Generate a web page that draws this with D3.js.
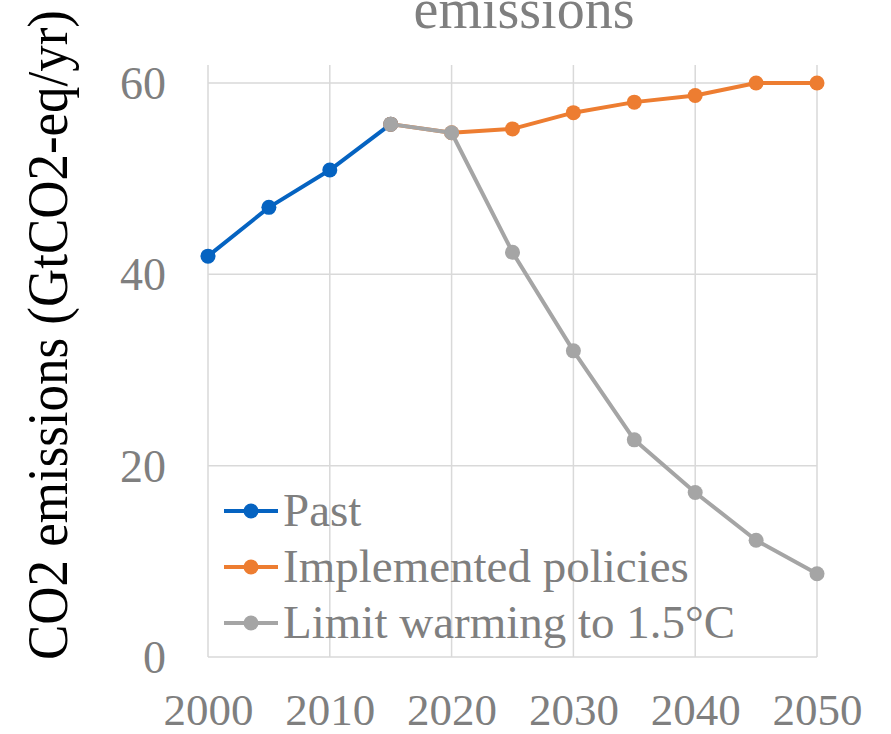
<!DOCTYPE html>
<html>
<head>
<meta charset="utf-8">
<script src="https://cdn.jsdelivr.net/npm/d3@7"></script>
<style>
  html, body { margin: 0; padding: 0; background: #ffffff; }
  svg { display: block; }
  text { font-family: "Liberation Serif", "Times New Roman", serif; }
</style>
</head>
<body>
<svg id="chart" width="891" height="734"></svg>
<script>
// Emission pathways, GtCO2-eq per year
const pastYears = [2000, 2005, 2010, 2015];
const pastValues = [41.9, 47.0, 50.9, 55.7];

const policyYears = [2015, 2020, 2025, 2030, 2035, 2040, 2045, 2050];
const policyValues = [55.7, 54.8, 55.2, 56.9, 58.0, 58.7, 60.0, 60.0];

const limitYears = [2015, 2020, 2025, 2030, 2035, 2040, 2045, 2050];
const limitValues = [55.7, 54.8, 42.3, 32.0, 22.7, 17.2, 12.2, 8.7];

const seriesNames = ["Past", "Implemented policies", "Limit warming to 1.5°C"];
const seriesColors = ["#0563c1", "#ed7d31", "#a5a5a5"];

const xTicks = [2000, 2010, 2020, 2030, 2040, 2050];
const yTicks = [0, 20, 40, 60];

const svg = d3.select("#chart");
const plot = { left: 208, right: 817, top: 65, bottom: 657 };

const x = d3.scaleLinear().domain([2000, 2050]).range([plot.left, plot.right]);
const y = d3.scaleLinear().domain([0, 60]).range([plot.bottom, 83]);

const gridColor = "#d9d9d9";
const labelGray = "#7f7f7f";

// Vertical grid lines
svg.append("g")
  .selectAll("line")
  .data(xTicks)
  .join("line")
  .attr("x1", d => x(d)).attr("x2", d => x(d))
  .attr("y1", plot.top).attr("y2", plot.bottom)
  .attr("stroke", gridColor).attr("stroke-width", 1.5);

// Horizontal grid lines
svg.append("g")
  .selectAll("line")
  .data(yTicks)
  .join("line")
  .attr("x1", plot.left).attr("x2", plot.right)
  .attr("y1", d => y(d)).attr("y2", d => y(d))
  .attr("stroke", gridColor).attr("stroke-width", 1.5);

// Y axis tick labels
const yAxis = d3.axisLeft(y).tickValues(yTicks).tickSize(0).tickPadding(0).tickFormat(d3.format("d"));
const gy = svg.append("g").attr("transform", `translate(166,0)`).call(yAxis);
gy.select(".domain").remove();
gy.selectAll("text")
  .attr("fill", labelGray)
  .style("font-family", '"Liberation Serif", serif')
  .style("font-size", "46px")
  .attr("dy", "0.34em");

// X axis tick labels
const xAxis = d3.axisBottom(x).tickValues(xTicks).tickSize(0).tickPadding(0).tickFormat(d3.format("d"));
const gx = svg.append("g").attr("transform", `translate(0,${plot.bottom})`).call(xAxis);
gx.select(".domain").remove();
gx.selectAll("text")
  .attr("fill", labelGray)
  .style("font-family", '"Liberation Serif", serif')
  .style("font-size", "45px")
  .attr("y", 68)
  .attr("dy", 0);

// Series lines and markers
const series = [
  { years: pastYears, values: pastValues },
  { years: policyYears, values: policyValues },
  { years: limitYears, values: limitValues }
];

const line = d3.line().x(d => x(d[0])).y(d => y(d[1]));

series.forEach((s, i) => {
  const pts = s.years.map((yr, j) => [yr, s.values[j]]);
  const g = svg.append("g");
  g.append("path")
    .attr("d", line(pts))
    .attr("fill", "none")
    .attr("stroke", seriesColors[i])
    .attr("stroke-width", 4)
    .attr("stroke-linejoin", "round");
  g.selectAll("circle")
    .data(pts)
    .join("circle")
    .attr("cx", d => x(d[0]))
    .attr("cy", d => y(d[1]))
    .attr("r", 7.5)
    .attr("fill", seriesColors[i]);
});

// Legend
const legend = svg.append("g");
seriesNames.forEach((name, i) => {
  const cy = 511 + i * 56;
  legend.append("line")
    .attr("x1", 224).attr("x2", 278)
    .attr("y1", cy).attr("y2", cy)
    .attr("stroke", seriesColors[i]).attr("stroke-width", 4);
  legend.append("circle")
    .attr("cx", 251).attr("cy", cy).attr("r", 7.5)
    .attr("fill", seriesColors[i]);
  legend.append("text")
    .attr("x", 283).attr("y", cy + 15)
    .attr("fill", labelGray)
    .style("font-size", "47px")
    .text(name);
});

// Title (second line of a wrapped heading)
svg.append("text")
  .attr("x", 524).attr("y", 28)
  .attr("text-anchor", "middle")
  .attr("fill", labelGray)
  .style("font-size", "56px")
  .text("emissions");

// Y axis title
svg.append("text")
  .attr("transform", "translate(67,335) rotate(-90)")
  .attr("text-anchor", "middle")
  .attr("fill", "#000000")
  .attr("textLength", 650)
  .attr("lengthAdjust", "spacingAndGlyphs")
  .style("font-size", "56px")
  .text("CO2 emissions (GtCO2-eq/yr)");
</script>
</body>
</html>
